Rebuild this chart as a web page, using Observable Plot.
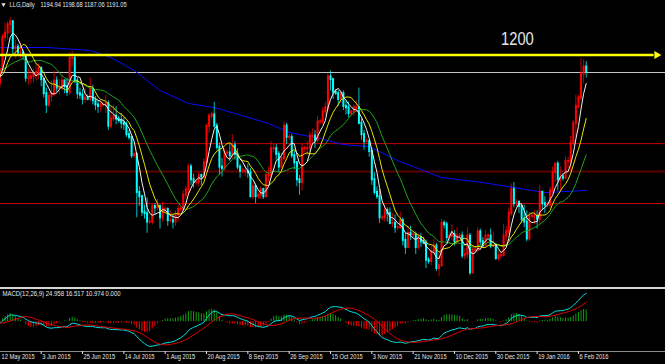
<!DOCTYPE html>
<html>
<head>
<meta charset="utf-8">
<script src="https://cdn.jsdelivr.net/npm/d3@7"></script>
<script src="https://cdn.jsdelivr.net/npm/@observablehq/plot@0.6"></script>
<style>
html, body { margin: 0; padding: 0; background: #000; }
#chart { width: 665px; height: 364px; background: #000; overflow: hidden; }
#chart svg { display: block; }
.sep { height: 2px; background: #d4d4d4; }
</style>
</head>
<body>
<div id="chart"></div>
<script>
// ---------------- DATA ----------------
const symbolName = "LLG,Daily";
// closes before the first visible bar (for the moving averages / MACD warm-up)
const preCloses = [1193,1200,1203,1203,1193,1193,1186,1194,1178,1202,1213,1205,1183,1175,1186,1193,1192,1184,1188,1183];

// daily bars [open, high, low, close]
const mayBars = [
[1183,1194,1180,1193],[1193,1218,1191,1216],[1216,1226,1213,1219],[1219,1227,1214,1225],[1225,1230,1219,1227],
[1227,1228,1203,1208],[1208,1214,1201,1209],[1209,1211,1203,1205],[1205,1212,1201,1205],[1205,1207,1200,1203],
[1203,1204,1184,1187],[1187,1194,1182,1187],[1187,1192,1183,1188],[1188,1193,1184,1190]];
const junBars = [
[1190,1196,1185,1191],[1191,1197,1186,1194],[1194,1195,1181,1186],[1186,1187,1173,1176],[1176,1180,1162,1168],
[1168,1177,1166,1174],[1174,1185,1170,1176],[1176,1192,1174,1185],[1185,1188,1177,1180],[1180,1186,1175,1180],
[1180,1189,1178,1185],[1185,1186,1176,1181],[1181,1187,1174,1177],[1177,1205,1175,1201],[1201,1206,1195,1201],
[1201,1204,1183,1185],[1185,1187,1172,1176],[1176,1180,1172,1175],[1175,1179,1168,1172],[1172,1180,1169,1173],
[1173,1175,1171,1172],[1172,1187,1170,1179],[1179,1182,1168,1171]];
const julBars = [
[1171,1174,1164,1168],[1168,1171,1162,1167],[1167,1171,1163,1168],[1168,1170,1166,1168],
[1168,1175,1162,1169],[1169,1171,1150,1153],[1153,1166,1151,1158],[1158,1168,1156,1160],[1160,1167,1154,1158],[1158,1160,1155,1157],
[1157,1162,1151,1155],[1155,1159,1150,1154],[1154,1156,1145,1147],[1147,1150,1143,1145],[1145,1146,1130,1132],[1132,1134,1130,1133],
[1133,1134,1088,1106],[1106,1110,1096,1103],[1103,1104,1089,1092],[1092,1097,1087,1091],[1091,1102,1077,1085],[1085,1088,1083,1085],
[1085,1098,1083,1096],[1096,1098,1090,1095],[1095,1101,1093,1096],[1096,1097,1080,1088],[1088,1099,1085,1094]];
const augBars = [
[1094,1096,1091,1094],
[1094,1095,1082,1086],[1086,1093,1084,1086],[1086,1090,1080,1085],[1085,1093,1082,1090],[1090,1097,1085,1094],[1094,1096,1092,1094],
[1094,1107,1092,1104],[1104,1110,1101,1108],[1108,1126,1105,1124],[1124,1126,1111,1115],[1115,1119,1109,1113],[1113,1115,1111,1113],
[1113,1120,1110,1118],[1118,1119,1111,1117],[1117,1130,1115,1127],[1127,1154,1126,1153],[1153,1162,1148,1160],[1160,1163,1158,1161],
[1161,1170,1151,1153],[1153,1155,1136,1138],[1138,1141,1118,1124],[1124,1130,1117,1123],[1123,1137,1121,1134],[1134,1136,1132,1134],
[1134,1140,1128,1132]];
const sepBars = [
[1132,1147,1130,1139],[1139,1142,1129,1133],[1133,1137,1122,1124],[1124,1126,1116,1121],[1121,1123,1119,1121],
[1121,1125,1117,1121],[1121,1126,1116,1120],[1120,1123,1102,1103],[1103,1113,1101,1110],[1110,1112,1098,1103],[1103,1106,1101,1104],
[1104,1110,1101,1108],[1108,1109,1101,1103],[1103,1120,1102,1118],[1118,1124,1113,1118],[1118,1142,1116,1137],[1137,1140,1134,1137],
[1137,1140,1129,1133],[1133,1135,1120,1124],[1124,1134,1122,1130],[1130,1156,1128,1153],[1153,1155,1140,1145],[1145,1147,1143,1145],
[1145,1147,1130,1132],[1132,1135,1122,1127],[1127,1128,1110,1115]];
const octBars = [
[1115,1118,1104,1113],[1113,1140,1107,1137],[1137,1139,1134,1137],
[1137,1142,1132,1137],[1137,1149,1134,1146],[1146,1151,1140,1146],[1146,1150,1137,1143],[1143,1160,1141,1156],[1156,1158,1154,1156],
[1156,1166,1154,1163],[1163,1170,1160,1166],[1166,1190,1164,1188],[1188,1192,1178,1186],[1186,1187,1172,1177],[1177,1179,1175,1176],
[1176,1178,1167,1172],[1172,1178,1169,1176],[1176,1178,1164,1167],[1167,1171,1161,1166],[1166,1170,1159,1162],[1162,1164,1160,1163],
[1163,1168,1160,1166],[1166,1171,1163,1166],[1166,1180,1154,1155],[1155,1158,1143,1147],[1147,1150,1136,1142],[1142,1144,1140,1142]];
const novBars = [
[1142,1143,1131,1135],[1135,1137,1111,1115],[1115,1120,1104,1106],[1106,1110,1101,1103],[1103,1108,1084,1088],[1088,1090,1086,1088],
[1088,1097,1085,1093],[1093,1095,1085,1091],[1091,1095,1083,1084],[1084,1091,1081,1084],[1084,1090,1077,1081],[1081,1083,1079,1081],
[1081,1092,1080,1086],[1086,1088,1068,1072],[1072,1077,1062,1067],[1067,1082,1066,1077],[1077,1082,1072,1076],[1076,1078,1074,1076],
[1076,1078,1062,1067],[1067,1077,1065,1074],[1074,1077,1067,1071],[1071,1074,1069,1070],[1070,1072,1052,1058],[1058,1060,1055,1057],
[1057,1068,1054,1064]];
const decBars = [
[1064,1073,1062,1068],[1068,1070,1050,1052],[1052,1063,1046,1054],[1054,1087,1053,1084],[1084,1086,1080,1083],
[1083,1085,1071,1074],[1074,1078,1069,1075],[1075,1083,1072,1076],[1076,1079,1068,1071],[1071,1081,1070,1075],[1075,1077,1073,1075],
[1075,1078,1059,1061],[1061,1066,1058,1062],[1062,1081,1059,1075],[1075,1077,1047,1049],[1049,1068,1048,1065],[1065,1067,1063,1065],
[1065,1081,1063,1078],[1078,1080,1068,1071],[1071,1074,1067,1068],[1068,1079,1068,1075],[1075,1077,1073,1075],
[1075,1080,1066,1068],[1068,1078,1067,1068],[1068,1070,1058,1059],[1059,1064,1057,1061]];
const janBars = [
[1061,1063,1059,1061],
[1061,1083,1061,1075],[1075,1082,1071,1078],[1078,1095,1076,1091],[1091,1112,1089,1108],[1108,1113,1095,1098],[1098,1101,1096,1099],
[1099,1100,1091,1096],[1096,1098,1084,1087],[1087,1097,1081,1085],[1085,1093,1071,1073],[1073,1092,1071,1089],[1089,1091,1087,1089],
[1089,1093,1083,1089],[1089,1093,1080,1087],[1087,1111,1083,1106],[1106,1107,1093,1098],[1098,1103,1091,1097],[1097,1099,1095,1097],
[1097,1110,1095,1107],[1107,1124,1105,1120],[1120,1127,1113,1126],[1126,1128,1107,1115],[1115,1124,1107,1117],[1117,1119,1114,1116]];
const febBars = [
[1116,1131,1115,1128],[1128,1131,1123,1128],[1128,1146,1121,1141],[1141,1157,1139,1155],[1155,1175,1145,1167],[1167,1175,1165,1173],
[1173,1201,1171,1190],[1190,1200,1183,1194.94],[1194.94,1198.68,1187.06,1191.05]];

// long (blue) moving average: bar index / price
const blueBar   = [0, 18, 35, 43, 52, 62, 73, 83, 91, 104, 112, 124, 133, 143, 154, 171, 187, 199, 211, 227];
const bluePrice = [1208.8, 1208.8, 1206.7, 1201.7, 1192.5, 1178.3, 1169.1, 1166.2, 1162.0, 1154.9, 1148.5, 1144.2, 1139.9, 1138.5, 1128.6, 1116.6, 1113.0, 1109.5, 1105.9, 1107.4];

// horizontal levels
const bidPrice = 1191.05;
const redLevels = [1140.6, 1098.1];
const darkRedLevels = [1120.8];
const arrowLevel = {price: 1203.5, fromBar: -1, toBar: 253.3};
const arrowLabel = {bar: 194, price: 1214.8, text: "1200"};

// MACD label values
const macdParams = "MACD(12,26,9)";
const macdLabelValues = [24.958, 16.517, 10.974, 0.000];

// date axis
const firstLabel = "12 May 2015";
const tickBars = [16, 32, 48, 64, 80, 96, 112, 128, 144, 160, 176, 192, 208, 224];
const tickLabels = ["3 Jun 2015","25 Jun 2015","14 Jul 2015","1 Aug 2015","20 Aug 2015","8 Sep 2015","26 Sep 2015",
  "15 Oct 2015","3 Nov 2015","21 Nov 2015","10 Dec 2015","30 Dec 2015","19 Jan 2016","6 Feb 2016"];

// ---------------- DERIVED ----------------
const bars = [].concat(mayBars, junBars, julBars, augBars, sepBars, octBars, novBars, decBars, janBars, febBars)
  .map(([o, h, l, c], i) => ({i, o, h, l, c, up: c >= o}));
const last = bars[bars.length - 1];
const closesAll = preCloses.concat(bars.map(b => b.c));
const off = preCloses.length;
const sma = n => bars.map(b => {
  const k = b.i + off;
  return {i: b.i, v: d3.mean(closesAll.slice(Math.max(0, k - n + 1), k + 1))};
});
const emaSeries = (arr, n) => { const a = 2 / (n + 1); let e = arr[0]; return arr.map(v => (e = e + a * (v - e))); };
const fast = emaSeries(closesAll, 12), slow = emaSeries(closesAll, 26);
const macdAll = fast.map((v, j) => v - slow[j]);
const sigAll = macdAll.map((v, j) => d3.mean(macdAll.slice(Math.max(0, j - 8), j + 1)));
const histScale = macdLabelValues[2] / (macdLabelValues[0] - macdLabelValues[1]);
const macd = bars.map(b => ({i: b.i, v: macdAll[b.i + off]}));
const signal = bars.map(b => ({i: b.i, v: sigAll[b.i + off]}));
const hist = bars.map(b => ({i: b.i, v: histScale * (macdAll[b.i + off] - sigAll[b.i + off])}));
const blue = blueBar.map((b, k) => ({i: b, v: bluePrice[k]}));
const ticks = tickBars.map((b, k) => ({i: b, label: tickLabels[k]}));

// ---------------- STYLE ----------------
const FONT = "'Liberation Sans', Arial, sans-serif";
const UP = "#ff0000", DOWN = "#00ffff";
const xDomain = [0.244, 257.7];
const txt = "#e6e6e6";

const main = Plot.plot({
  width: 665, height: 287, margin: 0,
  x: {domain: xDomain, range: [0, 665], axis: null},
  y: {domain: [1038.57, 1242.11], range: [287, 0], axis: null},
  color: {type: "identity"},
  style: {background: "#000", color: txt, fontFamily: FONT, fontSize: "7px"},
  marks: [
    Plot.ruleY(redLevels, {stroke: "#c80000", strokeWidth: 1}),
    Plot.ruleY(darkRedLevels, {stroke: "#5c0000", strokeWidth: 2}),
    Plot.ruleY([bidPrice], {stroke: "#c8c8c8", strokeWidth: 1}),
    Plot.line(blue, {x: "i", y: "v", stroke: "#0a0aff", strokeWidth: 1}),
    Plot.ruleX(bars, {x: "i", y1: "l", y2: "h", stroke: d => d.up ? UP : DOWN, strokeWidth: 1, strokeOpacity: 0.75}),
    Plot.ruleX(bars, {x: "i", y1: "o", y2: "c", stroke: d => d.up ? UP : DOWN, strokeWidth: 2, strokeLinecap: "square"}),
    Plot.line(sma(20), {x: "i", y: "v", stroke: "#1fa51f", strokeWidth: 1}),
    Plot.line(sma(10), {x: "i", y: "v", stroke: "#e6e600", strokeWidth: 1}),
    Plot.line(sma(5), {x: "i", y: "v", stroke: "#f2f2f2", strokeWidth: 1}),
    Plot.ruleY([arrowLevel], {y: "price", x1: "fromBar", x2: "toBar", stroke: "#ffff00", strokeWidth: 2.5}),
    Plot.dot([arrowLevel], {x: d => d.toBar + 1, y: "price", symbol: "triangle", rotate: 90, r: 3, fill: "#ffff00", stroke: "none"}),
    Plot.text([arrowLabel], {x: "bar", y: "price", text: "text", textAnchor: "start", fontSize: 18, fill: txt}),
    Plot.dot([0], {frameAnchor: "top-left", dx: 3, dy: 4, symbol: "triangle", rotate: 180, r: 1.6, fill: txt, stroke: "none"}),
    Plot.text([symbolName], {frameAnchor: "top-left", dx: 9, dy: 1.5, lineAnchor: "top", textAnchor: "start", fill: txt, fontSize: 7}),
    Plot.text([[last.o, last.h, last.l, last.c].map(v => v.toFixed(2)).join(" ")],
      {frameAnchor: "top-left", dx: 40, dy: 1.5, lineAnchor: "top", textAnchor: "start", fill: txt, fontSize: 7})
  ]
});

const allMacd = macd.map(d => d.v).concat(signal.map(d => d.v), hist.map(d => d.v), [0]);
const sub = Plot.plot({
  width: 665, height: 75, marginTop: 0, marginBottom: 13, marginLeft: 0, marginRight: 0,
  x: {domain: xDomain, range: [0, 665], axis: null},
  y: {domain: d3.extent(allMacd), range: [57, 4], axis: null},
  color: {type: "identity"},
  style: {background: "#000", color: txt, fontFamily: FONT, fontSize: "7px"},
  marks: [
    Plot.ruleX(hist, {x: "i", y1: 0, y2: "v", stroke: d => d.v >= 0 ? "#12a012" : "#ff0000", strokeWidth: 1}),
    Plot.line(macd, {x: "i", y: "v", stroke: "#00e0e0", strokeWidth: 1}),
    Plot.line(signal, {x: "i", y: "v", stroke: "#e00000", strokeWidth: 1}),
    Plot.frame({anchor: "bottom", stroke: "#8c8c8c"}),
    Plot.text([macdParams + " " + macdLabelValues.map(v => v.toFixed(3)).join(" ")],
      {frameAnchor: "top-left", dx: 2, dy: 1.5, lineAnchor: "top", textAnchor: "start", fill: txt, fontSize: 7.3}),
    Plot.axisX({ticks: tickBars, tickFormat: () => "", label: null, tickSize: 3}),
    Plot.text(ticks, {x: "i", text: "label", frameAnchor: "bottom", dx: 1, dy: 2.5, lineAnchor: "top", textAnchor: "start", fill: txt, fontSize: 7}),
    Plot.text([firstLabel], {frameAnchor: "bottom-left", dx: 1, dy: 2.5, lineAnchor: "top", textAnchor: "start", fill: txt, fontSize: 7})
  ]
});

const root = document.getElementById("chart");
root.append(main);
const sep = document.createElement("div");
sep.className = "sep";
root.append(sep);
root.append(sub);

// the terminal's font is condensed: squeeze every label horizontally, keeping its left edge
root.querySelectorAll("text").forEach(t => {
  const w = t.getComputedTextLength();
  if (w > 0) {
    t.setAttribute("textLength", (w * 0.82).toFixed(2));
    t.setAttribute("lengthAdjust", "spacingAndGlyphs");
  }
});
</script>
</body>
</html>
